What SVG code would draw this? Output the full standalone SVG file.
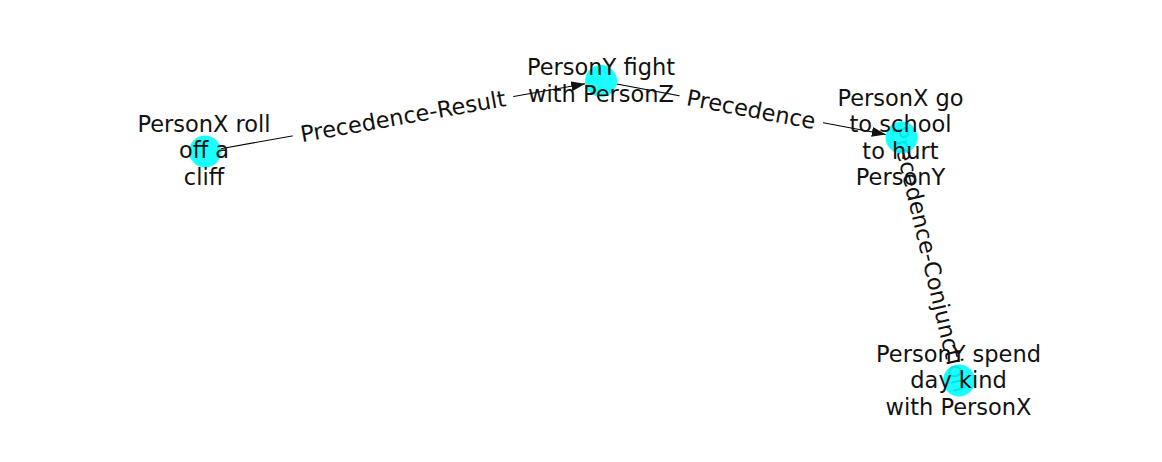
<svg xmlns="http://www.w3.org/2000/svg" width="1162" height="462" viewBox="0 0 1162 462">
<style>
.edge{stroke:#000;stroke-width:1.1;fill:none}
.node{fill:#00ffff;fill-opacity:0.9}
.lbl{font-family:"DejaVu Sans","Liberation Sans",sans-serif;font-size:22.5px;fill:#111;text-anchor:middle}
.elbox{fill:#fff;stroke:none}
</style>
<defs>
<marker id="arr" markerUnits="userSpaceOnUse" markerWidth="16" markerHeight="12" refX="14" refY="5" orient="auto">
<path d="M0,0 L14,5 L0,10 z" fill="#111"/>
</marker>
</defs>
<rect width="1162" height="462" fill="#fff"/>
<g id="connectors">
<line class="edge" x1="220.8" y1="148.7" x2="585.2" y2="83.8" marker-end="url(#arr)"/>
<line class="edge" x1="616.7" y1="84" x2="885.8" y2="134.5" marker-end="url(#arr)"/>
<line class="edge" x1="905.2" y1="153.1" x2="955.3" y2="364.9" marker-end="url(#arr)"/>
<g id="label-AB" transform="translate(403,116.25) rotate(-10.09)">
<rect class="elbox" x="-112" y="-17" width="224" height="34" rx="6"/>
<text class="lbl" x="0" y="8">Precedence-Result</text>
</g>
<g id="label-BC" transform="translate(751.25,109.25) rotate(10.65)">
<rect class="elbox" x="-73" y="-17" width="146" height="34" rx="6"/>
<text class="lbl" x="0" y="8">Precedence</text>
</g>
<g id="label-CD" transform="translate(930.25,259) rotate(76.69)">
<rect class="elbox" x="-140" y="-8" width="280" height="16" rx="4"/>
<text class="lbl" x="0" y="8">Precedence-Conjunction</text>
</g>
</g>
<g id="node-A">
<circle class="node" cx="205" cy="151.5" r="16"/>
<text class="lbl"><tspan x="204" y="131.5">PersonX roll</tspan><tspan x="204" y="158">off a</tspan><tspan x="204" y="184.5">cliff</tspan></text>
</g>
<g id="node-B">
<circle class="node" cx="601" cy="81" r="16"/>
<text class="lbl"><tspan x="601" y="75">PersonY fight</tspan><tspan x="601" y="101.5">with PersonZ</tspan></text>
</g>
<g id="node-C">
<circle class="node" cx="901.5" cy="137.5" r="16"/>
<text class="lbl"><tspan x="900.5" y="105.5">PersonX go</tspan><tspan x="900.5" y="132">to school</tspan><tspan x="900.5" y="158.5">to hurt</tspan><tspan x="900.5" y="185">PersonY</tspan></text>
</g>
<g id="node-D">
<circle class="node" cx="959" cy="380.5" r="16"/>
<text class="lbl"><tspan x="958.5" y="361.5">PersonY spend</tspan><tspan x="958.5" y="388">day kind</tspan><tspan x="958.5" y="414.5">with PersonX</tspan></text>
</g>
</svg>
